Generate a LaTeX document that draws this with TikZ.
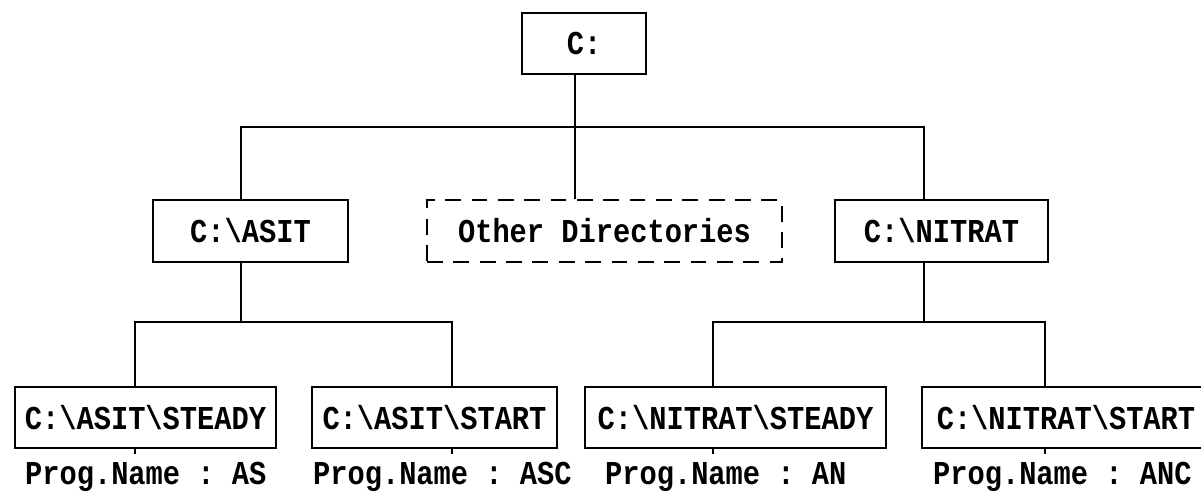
\documentclass[tikz,border=0pt]{standalone}
\usepackage{fontspec}
\setmonofont[FakeStretch=0.86]{Liberation Mono}
\usepackage{tikz}

\newcommand{\bs}{\textbackslash}
\tikzset{
  dirbox/.style={draw=black, line width=1.2pt, inner sep=0pt, minimum height=1.24cm,
    font=\ttfamily\bfseries\fontsize{19}{22}\selectfont},
  otherbox/.style={dirbox, dash pattern=on 9pt off 6pt},
  progname/.style={anchor=base west, inner sep=5pt,
    font=\ttfamily\bfseries\fontsize{19}{22}\selectfont},
  link/.style={line width=1.2pt}
}

\begin{document}
\begin{tikzpicture}[x=0.02cm, y=-0.02cm]
        \useasboundingbox (0,0) rectangle (1201,492);

        % root
        \node[dirbox, minimum width=2.48cm, minimum height=1.22cm] (root) at (584,43.5) {C:};

        % second level
        \node[dirbox, minimum width=3.9cm] (asit) at (250.5,231) {C:\bs ASIT};
        \node[otherbox, minimum width=7.1cm] (other) at (604.5,231) {Other Directories};
        \node[dirbox, minimum width=4.26cm] (nitrat) at (941.5,231) {C:\bs NITRAT};

        % third level
        \node[dirbox, minimum width=5.22cm, minimum height=1.22cm] (asteady) at (145.5,417.5) {C:\bs ASIT\bs STEADY};
        \node[dirbox, minimum width=4.9cm, minimum height=1.22cm] (astart) at (434.5,417.5) {C:\bs ASIT\bs START};
        \node[dirbox, minimum width=6.02cm, minimum height=1.22cm] (nsteady) at (735.5,417.5) {C:\bs NITRAT\bs STEADY};
        \node[dirbox, minimum width=5.76cm, minimum height=1.22cm] (nstart) at (1066,417.5) {C:\bs NITRAT\bs START};

        % program names
        \node[progname] (asname) at (16,485) {Prog.Name : AS};
        \node[progname] (ascname) at (304,485) {Prog.Name : ASC};
        \node[progname] (anname) at (596,485) {Prog.Name : AN};
        \node[progname] (ancname) at (924,485) {Prog.Name : ANC};

        % branch points
        \coordinate (barL) at (241,127);
        \coordinate (barM) at (575,127);
        \coordinate (barR) at (924,127);
        \coordinate (subA) at (241,322);
        \coordinate (subAL) at (135,322);
        \coordinate (subAR) at (452,322);
        \coordinate (subN) at (924,322);
        \coordinate (subNL) at (713,322);
        \coordinate (subNR) at (1045,322);

        % root to second level
        \draw[link] (root.south -| barM) -- (barM |- other.north);
        \draw[link] (barL |- asit.north) |- (barR) -- (barR |- nitrat.north);

        % second to third level
        \draw[link] (asit.south -| subA) -- (subA);
        \draw[link] (subAL |- asteady.north) |- (subAR) -- (subAR |- astart.north);
        \draw[link] (nitrat.south -| subN) -- (subN);
        \draw[link] (subNL |- nsteady.north) |- (subNR) -- (subNR |- nstart.north);

        % ticks to program names
        \draw[link] (asteady.south -| subAL) -- (subAL |- asname.north);
        \draw[link] (astart.south -| subAR) -- (subAR |- ascname.north);
        \draw[link] (nsteady.south -| subNL) -- (subNL |- anname.north);
        \draw[link] (nstart.south -| subNR) -- (subNR |- ancname.north);

    \end{tikzpicture}
\end{document}
